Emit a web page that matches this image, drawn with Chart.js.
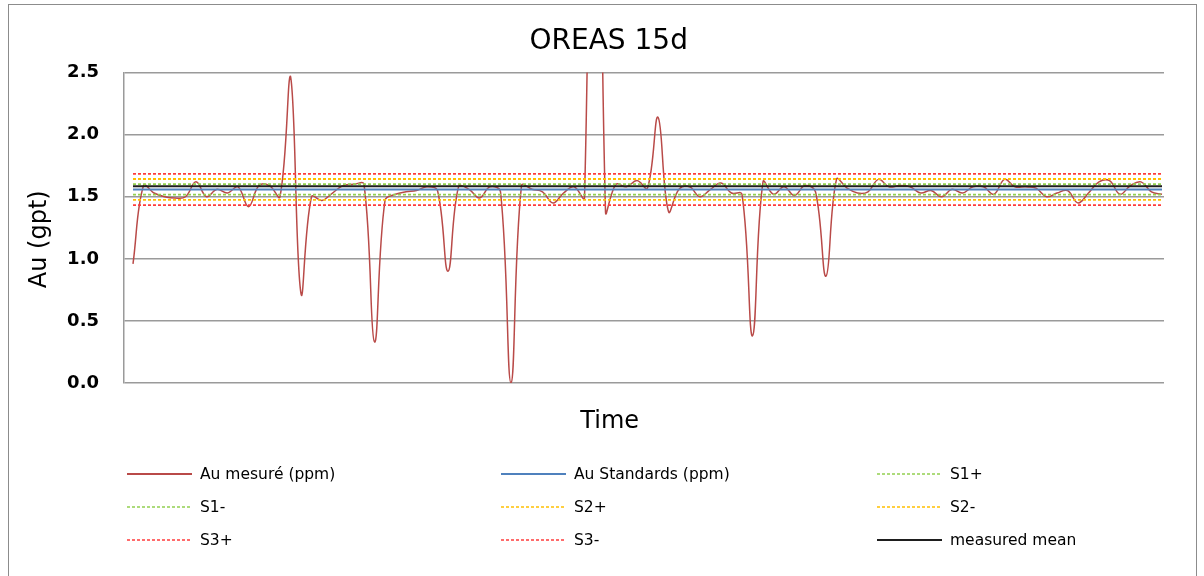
<!DOCTYPE html>
<html>
<head>
<meta charset="utf-8">
<title>OREAS 15d</title>
<script src="https://cdn.jsdelivr.net/npm/chart.js@4.4.1/dist/chart.umd.min.js"></script>
<style>
  body { margin: 0; background: #fff; }
  #wrap { position: relative; width: 1204px; height: 576px; overflow: hidden; }
  #frame { position: absolute; left: 8px; top: 4px; width: 1187px; height: 640px; border: 1px solid #8c8c8c; }
  #chartBox { position: absolute; left: 0; top: 0; width: 1204px; height: 576px; }
  #legend { position: absolute; left: 127px; top: 457px; display: grid;
            grid-template-columns: 374px 376px 300px; grid-auto-rows: 33px;
            font-family: 'DejaVu Sans'; font-size: 15.5px; color: #000; }
  #legend .item { display: flex; align-items: center; white-space: nowrap; }
  #legend svg { margin-right: 8px; flex: none; }
</style>
</head>
<body>
<div id="wrap">
  <div id="frame"></div>
  <div id="chartBox"><canvas id="qcChart"></canvas></div>
  <div id="legend"></div>
</div>
<script>
const auMeasured = [
  0.96, 1.59, 1.53, 1.50, 1.49, 1.50, 1.62, 1.50, 1.56, 1.53,
  1.58, 1.42, 1.59, 1.59, 1.50, 2.47, 0.72, 1.50, 1.47, 1.53,
  1.59, 1.60, 1.60, 0.33, 1.47, 1.52, 1.54, 1.55, 1.58, 1.55,
  0.90, 1.58, 1.56, 1.49, 1.58, 1.54, 0.00, 1.59, 1.56, 1.54,
  1.45, 1.53, 1.58, 1.49, 8.00, 1.38, 1.60, 1.58, 1.63, 1.57,
  2.14, 1.38, 1.56, 1.58, 1.50, 1.56, 1.61, 1.53, 1.52, 0.38,
  1.62, 1.52, 1.58, 1.51, 1.59, 1.54, 0.86, 1.64, 1.57, 1.53,
  1.54, 1.64, 1.58, 1.59, 1.58, 1.53, 1.55, 1.50, 1.56, 1.53,
  1.58, 1.58, 1.52, 1.64, 1.58, 1.58, 1.57, 1.50, 1.53, 1.55,
  1.45, 1.53, 1.62, 1.63, 1.52, 1.59, 1.62, 1.54, 1.52
];

// Horizontal control lines
const refNames  = ['Au Standards (ppm)', 'S1+', 'S1-', 'S2+', 'S2-', 'S3+', 'S3-', 'measured mean'];
const refValues = [1.559, 1.601, 1.517, 1.643, 1.475, 1.685, 1.433, 1.585];
const refColors = ['#4f81bd', '#92d050', '#92d050', '#ffc000', '#ffc000', '#ff3b3b', '#ff3b3b', '#1e1e1e'];
const refDashed = [false, true, true, true, true, true, true, false];

const yTicks = [0, 0.5, 1.0, 1.5, 2.0, 2.5];

const lastIdx = auMeasured.length - 1;

const datasets = [{
  label: 'Au mesuré (ppm)',
  data: auMeasured.map((v, i) => ({ x: i, y: v })),
  borderColor: '#b94a48',
  borderWidth: 1.5,
  tension: 0.4,
  pointRadius: 0,
  order: 10
}];

refNames.forEach((name, k) => {
  datasets.push({
    label: name,
    data: [{ x: 0, y: refValues[k] }, { x: lastIdx, y: refValues[k] }],
    borderColor: refColors[k],
    borderWidth: refDashed[k] ? 1.8 : 2,
    borderDash: refDashed[k] ? [3, 2] : [],
    pointRadius: 0,
    order: 9 - k
  });
});

Chart.defaults.font.family = 'DejaVu Sans';
Chart.defaults.color = '#000';

// Excel centres its titles a bit differently, nudge them with padding spaces
const sp = (n) => ' '.repeat(n);

const ctx = document.getElementById('qcChart').getContext('2d');
const qcChart = new Chart(ctx, {
  type: 'line',
  data: { datasets: datasets },
  options: {
    responsive: true,
    maintainAspectRatio: false,
    animation: false,
    layout: { padding: { left: 0, top: 0, right: 40, bottom: 123 } },
    plugins: {
      legend: { display: false },
      tooltip: { enabled: false },
      title: {
        display: true,
        text: sp(6) + 'OREAS 15d',
        font: { size: 28, weight: 'normal' },
        color: '#000',
        padding: { top: 25, bottom: 14 }
      }
    },
    scales: {
      x: {
        type: 'linear',
        min: -0.857,
        max: lastIdx + 0.19,
        ticks: { display: false },
        grid: { display: false },
        border: { display: false },
        title: { display: true, text: 'Time' + sp(9), font: { size: 24 }, color: '#000', padding: { top: 0, bottom: 16.6 } },
        afterFit: (scale) => { scale.height = 70; }
      },
      y: {
        min: 0,
        max: 2.5,
        afterBuildTicks: (scale) => { scale.ticks = yTicks.map(v => ({ value: v })); },
        ticks: {
          padding: 25,
          font: { size: 18, weight: 'bold' },
          color: '#000',
          callback: (v) => Number(v).toFixed(1)
        },
        grid: { color: '#9a9a9a', lineWidth: 1.5, drawTicks: false },
        border: { display: true, color: '#9a9a9a', width: 1.5 },
        title: { display: true, text: 'Au (gpt)' + sp(3), font: { size: 24 }, color: '#000', padding: { top: 25.6, bottom: 0 } },
        afterFit: (scale) => { scale.width = 124; }
      }
    }
  }
});

// HTML legend, three columns like the original sheet
const legendEl = document.getElementById('legend');
qcChart.data.datasets.forEach((ds) => {
  const item = document.createElement('div');
  item.className = 'item';
  const dashed = ds.borderDash && ds.borderDash.length;
  item.innerHTML = '<svg width="65" height="6"><line x1="0" y1="3" x2="65" y2="3" stroke="' +
    ds.borderColor + '" stroke-width="' + (dashed ? 1.5 : 2) + '" ' +
    (dashed ? 'stroke-dasharray="3 2"' : '') + '/></svg><span></span>';
  item.querySelector('span').textContent = ds.label;
  legendEl.appendChild(item);
});
</script>
</body>
</html>
